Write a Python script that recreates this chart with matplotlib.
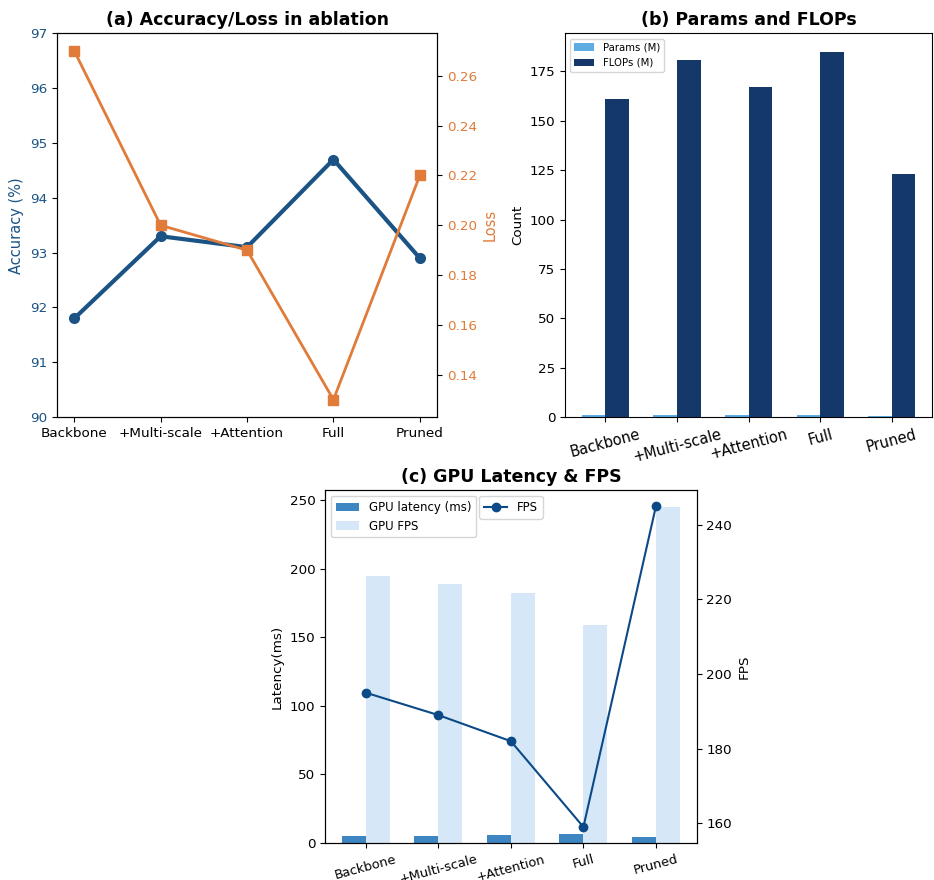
import matplotlib
matplotlib.use("Agg")
import matplotlib.pyplot as plt
import numpy as np

categories = ["Backbone", "+Multi-scale", "+Attention", "Full", "Pruned"]
accuracy = [91.8, 93.3, 93.1, 94.7, 92.9]
loss = [0.27, 0.20, 0.19, 0.13, 0.22]
params_m = [1.0, 1.2, 1.1, 1.3, 0.7]
flops_m = [161, 181, 167, 185, 123]
latency_ms = [5.1, 5.3, 5.5, 6.3, 4.1]
fps = [195, 189, 182, 159, 245]

c_acc = "#1b5385"
c_loss = "#e07b39"
c_params = "#5dade2"
c_flops = "#15386a"
c_lat = "#3e86c1"
c_gfps = "#d6e8f7"
c_fps = "#0b4a86"

fig = plt.figure(figsize=(9.34, 8.8), dpi=100)
x = np.arange(len(categories))

# (a)
ax1 = fig.add_axes([0.061, 0.526, 0.407, 0.436])
ax1.plot(x, accuracy, color=c_acc, lw=3, marker="o", ms=7)
ax1.set_ylim(90, 97)
ax1.set_ylabel("Accuracy (%)", color=c_acc, fontsize=10.5)
ax1.tick_params(axis="y", labelcolor=c_acc, labelsize=9.7)
ax1.set_xticks(x)
ax1.set_xticklabels(categories, fontsize=9.7)
ax1b = ax1.twinx()
ax1b.plot(x, loss, color=c_loss, lw=2, marker="s", ms=7)
ax1b.set_ylabel("Loss", color=c_loss, fontsize=10.5)
ax1b.tick_params(axis="y", labelcolor=c_loss, labelsize=9.7)
ax1.set_title("(a) Accuracy/Loss in ablation", fontsize=12.5, fontweight="bold")

# (b)
w = 0.33
ax2 = fig.add_axes([0.605, 0.526, 0.393, 0.436])
ax2.bar(x - w / 2, params_m, w, color=c_params, label="Params (M)")
ax2.bar(x + w / 2, flops_m, w, color=c_flops, label="FLOPs (M)")
ax2.set_xticks(x)
ax2.set_xticklabels(categories, rotation=15, fontsize=10.5)
ax2.set_ylabel("Count", fontsize=9.7)
ax2.tick_params(axis="y", labelsize=9.7)
ax2.legend(loc="upper left", fontsize=7.3)
ax2.set_title("(b) Params and FLOPs", fontsize=12.5, fontweight="bold")

# (c)
ax3 = fig.add_axes([0.348, 0.042, 0.398, 0.401])
ax3.bar(x - w / 2, latency_ms, w, color=c_lat, label="GPU latency (ms)")
ax3.bar(x + w / 2, fps, w, color=c_gfps, label="GPU FPS")
ax3.set_xticks(x)
ax3.set_xticklabels(categories, rotation=15, fontsize=9.3)
ax3.set_ylabel("Latency(ms)", fontsize=9.7)
ax3.tick_params(axis="y", labelsize=9.7)
ax3c = ax3.twinx()
ax3c.plot(x, fps, color=c_fps, lw=1.5, marker="o", ms=6, label="FPS")
ax3c.set_ylabel("FPS", fontsize=9.7)
ax3c.tick_params(axis="y", labelsize=9.7)
ax3.legend(loc="upper left", fontsize=8.5)
ax3c.legend(loc="upper center", fontsize=8.5)
ax3.set_title("(c) GPU Latency & FPS", fontsize=12.5, fontweight="bold")

fig.savefig("out.png", dpi=100)
